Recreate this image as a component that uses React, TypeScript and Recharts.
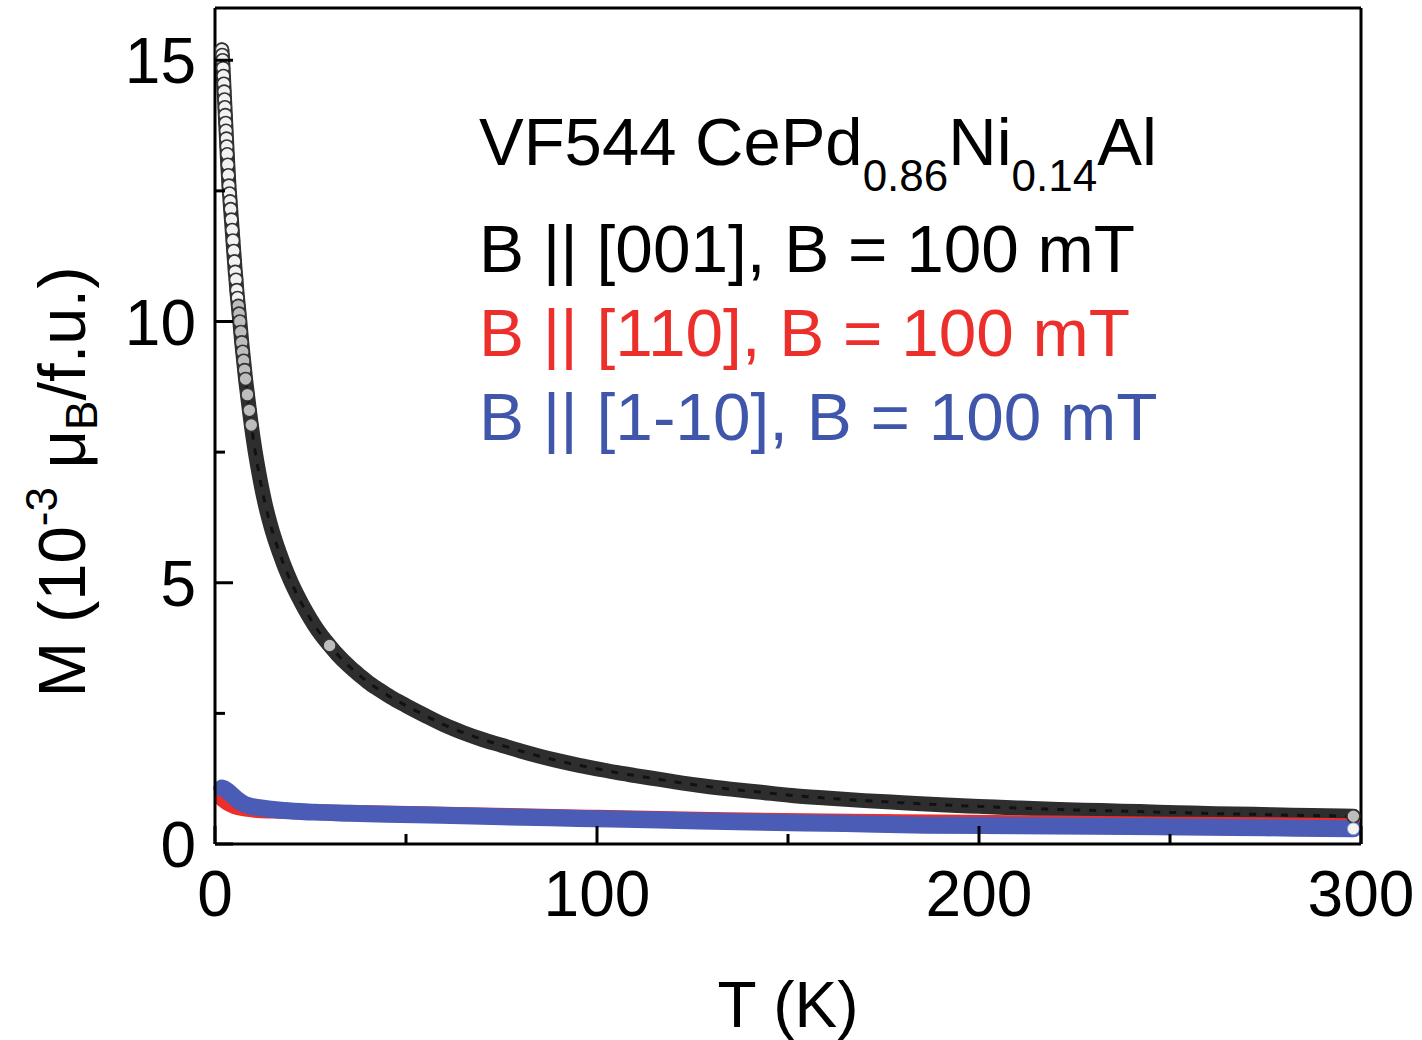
import { Legend, Line, LineChart, XAxis, YAxis } from "recharts";

const W = 1422;
const H = 1040;
const FONT = "'Liberation Sans', Arial, sans-serif";

// axis ticks (minor ticks have no label)
const xTicks = [0, 50, 100, 150, 200, 250, 300];
const xLabels = [0, 100, 200, 300];
const yTicks = [0, 2.5, 5, 7.5, 10, 12.5, 15];
const yLabels = [0, 5, 10, 15];

// [T (K), M (1e-3 muB/f.u.)]
const b001 = [
  [1.8, 15.2], [1.9, 15.1], [2.0, 15.0], [2.1, 14.85], [2.2, 14.7], [2.3, 14.55],
  [2.4, 14.4], [2.5, 14.25], [2.6, 14.1], [2.7, 13.95], [2.8, 13.8], [2.9, 13.65],
  [3.0, 13.5], [3.1, 13.35], [3.2, 13.2], [3.35, 13.0], [3.5, 12.8], [3.65, 12.6],
  [3.8, 12.45], [3.95, 12.3], [4.1, 12.15], [4.3, 11.95], [4.5, 11.75], [4.7, 11.55],
  [4.9, 11.35], [5.1, 11.15], [5.3, 10.95], [5.5, 10.8], [5.7, 10.6], [5.9, 10.45],
  [6.1, 10.3], [6.3, 10.15], [6.5, 10.0], [6.75, 9.8], [7.0, 9.6], [7.25, 9.42],
  [7.5, 9.25], [7.75, 9.07], [8.0, 8.9], [8.5, 8.6], [9.0, 8.3], [9.5, 8.02],
  [10, 7.76], [10.5, 7.52], [11, 7.3], [11.5, 7.1], [12, 6.9], [12.5, 6.72],
  [13, 6.55], [14, 6.25], [15, 5.99], [16, 5.76], [17, 5.55], [18, 5.35],
  [19, 5.17], [20, 5.0], [22, 4.7], [24, 4.43], [26, 4.19], [28, 3.98],
  [30, 3.8], [32, 3.63], [35, 3.41], [38, 3.22], [40, 3.1], [43, 2.95],
  [46, 2.81], [50, 2.65], [55, 2.46], [60, 2.28], [65, 2.13], [70, 2.0],
  [75, 1.89], [80, 1.78], [85, 1.68], [90, 1.59], [95, 1.51], [100, 1.44],
  [105, 1.37], [110, 1.31], [116, 1.24], [122, 1.17], [128, 1.11], [135, 1.05],
  [143, 0.99], [151, 0.93], [160, 0.88], [170, 0.83], [180, 0.79], [190, 0.75],
  [200, 0.72], [210, 0.69], [221, 0.66], [232, 0.64], [242, 0.62], [252, 0.6],
  [262, 0.58], [272, 0.57], [282, 0.55], [291, 0.54], [298, 0.53],
];

const b110 = [
  [1.8, 0.86], [2.5, 0.82], [3.5, 0.77], [5, 0.72], [7, 0.68], [10, 0.65],
  [15, 0.63], [20, 0.62], [30, 0.61], [40, 0.6], [60, 0.57], [80, 0.54],
  [100, 0.51], [130, 0.47], [160, 0.44], [190, 0.42], [220, 0.4], [250, 0.38],
  [275, 0.37], [298, 0.35],
];

const b1m10 = [
  [1.8, 1.07], [2.3, 1.06], [3, 1.03], [4, 0.97], [5, 0.9], [6, 0.84],
  [7.5, 0.77], [9, 0.73], [11, 0.7], [14, 0.67], [18, 0.64], [26, 0.61],
  [35, 0.59], [45, 0.57], [59, 0.55], [75, 0.52], [95, 0.49], [116, 0.46],
  [140, 0.42], [165, 0.39], [186, 0.36], [210, 0.35], [247, 0.33], [275, 0.31],
  [298, 0.29],
];

const rows = (pts: number[][]) => pts.map(([T, M]) => ({ T, M }));

const RED = "#ec2f2b";
const BLUE = "#4a5cb5";
const BLUE_TEXT = "#3f56aa";

const AxisTick = (props: any) => {
  const { x, y, payload, side } = props;
  const v = payload.value;
  const horiz = side === "bottom" || side === "top";
  const major = (horiz ? xLabels : yLabels).includes(v);
  const len = major ? 18 : 10;
  let x2 = x;
  let y2 = y;
  if (side === "bottom") y2 = y - len;
  if (side === "top") y2 = y + len;
  if (side === "left") x2 = x + len;
  if (side === "right") x2 = x - len;
  return (
    <g>
      <line x1={x} y1={y} x2={x2} y2={y2} stroke="#000" strokeWidth={3} />
      {major && side === "bottom" && (
        <text x={x} y={y + 72} textAnchor="middle" fontSize={64} fontFamily={FONT} fill="#000">
          {v}
        </text>
      )}
      {major && side === "left" && (
        <text x={x - 19} y={y + 23} textAnchor="end" fontSize={64} fontFamily={FONT} fill="#000">
          {v}
        </text>
      )}
    </g>
  );
};

const blackDot = (props: any) => {
  const { cx, cy, payload, index } = props;
  const T = payload.T;
  if (T > 9.5 && T !== 30 && T !== 298) return <g key={index} />;
  return (
    <circle key={index} cx={cx} cy={cy} r={6.5} fill={T < 6 ? "#f2f2f2" : "#bdbdbd"} stroke="#333" strokeWidth={1.6} />
  );
};

const blueDot = (props: any) => {
  const { cx, cy, payload, index } = props;
  if (payload.T !== 298) return <g key={index} />;
  return <circle key={index} cx={cx} cy={cy} r={6} fill="#f4f4f4" stroke="#8a96d0" strokeWidth={1} />;
};

const YTitle = () => (
  <text transform="translate(85, 482) rotate(-90)" textAnchor="middle" fontSize={67} fontFamily={FONT} fill="#000">
    M (10
    <tspan dy={-28} fontSize={44}>-3</tspan>
    <tspan dy={28}> μ</tspan>
    <tspan dy={12} fontSize={44}>B</tspan>
    <tspan dy={-12}>/f.u.)</tspan>
  </text>
);

const XTitle = () => (
  <text x={788} y={1027} textAnchor="middle" fontSize={64} fontFamily={FONT} fill="#000">
    T (K)
  </text>
);

const Annotation = () => (
  <svg width={W} height={H} style={{ position: "absolute", left: 0, top: 0 }}>
    <g fontFamily={FONT}>
      <text x={479} y={165} fill="#000" fontSize={67}>
        VF544 CePd
        <tspan dy={26} fontSize={44}>0.86</tspan>
        <tspan dy={-26}>Ni</tspan>
        <tspan dy={26} fontSize={44}>0.14</tspan>
        <tspan dy={-26}>Al</tspan>
      </text>
      <text x={479} y={272} fill="#000" fontSize={67.5}>B || [001], B = 100 mT</text>
      <text x={479} y={356} fill={RED} fontSize={67.5}>B || [110], B = 100 mT</text>
      <text x={479} y={440} fill={BLUE_TEXT} fontSize={67.5}>B || [1-10], B = 100 mT</text>
    </g>
  </svg>
);

export default function App() {
  return (
    <div style={{ position: "absolute", left: 0, top: 0, width: W, height: H }}>
      <LineChart width={W} height={H} margin={{ top: 0, right: 0, bottom: 0, left: 0 }}>
        <XAxis
          xAxisId="b"
          type="number"
          dataKey="T"
          domain={[0, 300]}
          ticks={xTicks}
          interval={0}
          height={196}
          tickSize={0}
          tickMargin={0}
          tickLine={false}
          axisLine={{ stroke: "#000", strokeWidth: 3 }}
          tick={(p: any) => <AxisTick {...p} side="bottom" />}
          label={{ content: () => <XTitle /> }}
        />
        <XAxis
          xAxisId="t"
          orientation="top"
          type="number"
          dataKey="T"
          domain={[0, 300]}
          ticks={xTicks}
          interval={0}
          height={8}
          tickSize={0}
          tickMargin={0}
          tickLine={false}
          axisLine={{ stroke: "#000", strokeWidth: 3 }}
          tick={(p: any) => <AxisTick {...p} side="top" />}
        />
        <YAxis
          yAxisId="l"
          type="number"
          domain={[0, 16]}
          ticks={yTicks}
          interval={0}
          width={215}
          tickSize={0}
          tickMargin={0}
          tickLine={false}
          axisLine={{ stroke: "#000", strokeWidth: 3 }}
          tick={(p: any) => <AxisTick {...p} side="left" />}
          label={{ content: () => <YTitle /> }}
        />
        <YAxis
          yAxisId="r"
          orientation="right"
          type="number"
          domain={[0, 16]}
          ticks={yTicks}
          interval={0}
          width={61}
          tickSize={0}
          tickMargin={0}
          tickLine={false}
          axisLine={{ stroke: "#000", strokeWidth: 3 }}
          tick={(p: any) => <AxisTick {...p} side="right" />}
        />
        <Line
          xAxisId="b"
          yAxisId="l"
          data={rows(b001)}
          dataKey="M"
          type="monotone"
          stroke="#2e2e2e"
          strokeWidth={15}
          strokeLinecap="round"
          strokeLinejoin="round"
          dot={blackDot}
          activeDot={false}
          isAnimationActive={false}
        />
        <Line
          xAxisId="b"
          yAxisId="l"
          data={rows(b001)}
          dataKey="M"
          type="monotone"
          stroke="#111"
          strokeWidth={3}
          strokeDasharray="7 9"
          dot={false}
          activeDot={false}
          isAnimationActive={false}
        />
        <Line
          xAxisId="b"
          yAxisId="l"
          data={rows(b110)}
          dataKey="M"
          type="monotone"
          stroke={RED}
          strokeWidth={15}
          strokeLinecap="round"
          strokeLinejoin="round"
          dot={false}
          activeDot={false}
          isAnimationActive={false}
        />
        <Line
          xAxisId="b"
          yAxisId="l"
          data={rows(b1m10)}
          dataKey="M"
          type="monotone"
          stroke={BLUE}
          strokeWidth={17}
          strokeLinecap="round"
          strokeLinejoin="round"
          dot={blueDot}
          activeDot={false}
          isAnimationActive={false}
        />
        <Legend
          layout="horizontal"
          verticalAlign="middle"
          align="center"
          wrapperStyle={{ left: 0, top: 0, width: W, height: H, pointerEvents: "none" }}
          content={() => <Annotation />}
        />
      </LineChart>
    </div>
  );
}
